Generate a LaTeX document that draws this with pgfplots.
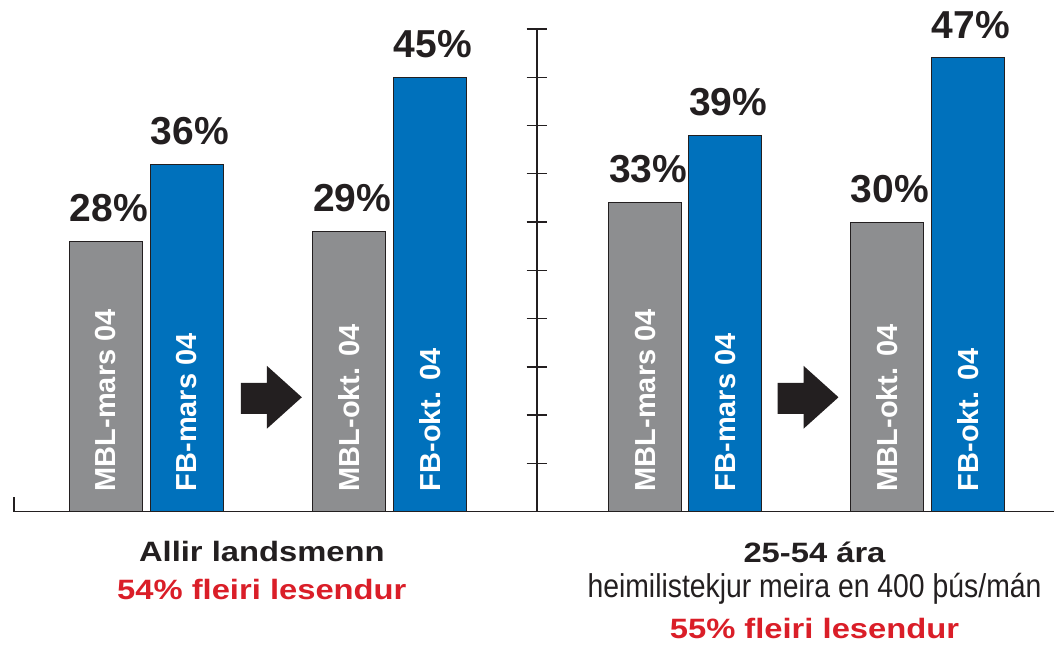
\documentclass[border=0pt]{standalone}
\usepackage{fontspec}
\setmainfont{Liberation Sans}
\newfontfamily\widebold{Liberation Sans Bold}[FakeStretch=1.17]
\newfontfamily\narrowreg{Liberation Sans}[FakeStretch=0.86]
\usepackage{pgfplots}
\pgfplotsset{compat=1.18}
\definecolor{barblue}{RGB}{0,113,188}
\definecolor{bargray}{RGB}{141,142,144}
\definecolor{dark}{RGB}{35,31,32}
\definecolor{redtxt}{RGB}{218,30,40}
\begin{document}
\begin{tikzpicture}
\begin{axis}[
  scale only axis,
  width=520.5pt, height=241.5pt,
  xmin=14, xmax=1055, ymin=0, ymax=50,
  axis x line=bottom, axis y line=none,
  axis line style={-, draw=dark, line width=0.65pt},
  xtick=\empty, ytick=\empty,
  clip=false,
  /pgf/number format/assume math mode=true,
  ybar, bar width=73,
  point meta=explicit,
  nodes near coords={\pgfmathprintnumber{\pgfplotspointmeta}\%},
  every node near coord/.append style={font=\bfseries\fontsize{19.5}{20}\selectfont, text=dark, anchor=south, inner sep=0pt, yshift=9.5pt, xshift=1.5pt},
]
\addplot[bar shift=0pt, fill=bargray, draw=dark, line width=0.5pt] coordinates {(106,28) [28] (349.5,29) [29] (645.5,32) [33] (887.5,30) [30]};
\addplot[bar shift=0pt, fill=barblue, draw=dark, line width=0.5pt] coordinates {(187,36) [36] (430,45) [45] (725.5,39) [39] (968.5,47) [47]};

% rotated labels inside bars
\foreach \xx/\tt in {106/MBL-mars 04, 187/FB-mars 04, 349.5/MBL-okt. 04, 430/FB-okt. 04, 645.5/MBL-mars 04, 725.5/FB-mars 04, 887.5/MBL-okt. 04, 968.5/FB-okt. 04}{
  \edef\temp{\noexpand\node[rotate=90, anchor=west, inner sep=0pt, text=white, font=\noexpand\bfseries\noexpand\fontsize{14.5}{15}\noexpand\selectfont] at (axis cs:\xx,2.07) {\tt};}
  \temp
}

% arrows
\fill[dark] (axis cs:241,13.35) -- (axis cs:267,13.35) -- (axis cs:267,15.11) -- (axis cs:302,11.85) -- (axis cs:267,8.59) -- (axis cs:267,10.14) -- (axis cs:241,10.14) -- cycle;
\fill[dark] (axis cs:778,13.35) -- (axis cs:804,13.35) -- (axis cs:804,15.11) -- (axis cs:839,11.85) -- (axis cs:804,8.59) -- (axis cs:804,10.14) -- (axis cs:778,10.14) -- cycle;

% small left tick
\draw[dark, line width=1pt] (axis cs:14,0) -- (axis cs:14,1.55);

% bottom texts
\node[anchor=base, inner sep=0pt, text=dark, font=\widebold\fontsize{14}{15}\selectfont] at (axis cs:262,-5.18) {Allir landsmenn};
\node[anchor=base, inner sep=0pt, text=redtxt, font=\widebold\fontsize{14}{15}\selectfont] at (axis cs:262,-9.11) {54\% fleiri lesendur};
\node[anchor=base, inner sep=0pt, text=dark, font=\widebold\fontsize{14}{15}\selectfont] at (axis cs:815,-5.28) {25-54 ára};
\node[anchor=base, inner sep=0pt, text=dark, font=\narrowreg\fontsize{16.5}{17}\selectfont] at (axis cs:815,-8.85) {heimilistekjur meira en 400 þús/mán};
\node[anchor=base, inner sep=0pt, text=redtxt, font=\widebold\fontsize{14}{15}\selectfont] at (axis cs:815,-13.15) {55\% fleiri lesendur};

\coordinate (bbTL) at (axis cs:0,53.0);
\coordinate (bbBR) at (axis cs:1055,-13.87);
\end{axis}
\begin{axis}[
  scale only axis,
  width=520.5pt, height=241.5pt,
  xmin=-523, xmax=518, ymin=0, ymax=50,
  axis y line=middle, axis x line=none,
  axis line style={-, draw=dark, line width=1pt},
  xtick=\empty, ytick={0,5,...,50}, yticklabels={},
  tick align=center, major tick length=10pt,
  every tick/.style={draw=dark, line width=0.7pt},
]
\addplot[draw=none] coordinates {(0,0)};
\end{axis}
\path (bbTL) rectangle (bbBR);
\end{tikzpicture}
\end{document}
